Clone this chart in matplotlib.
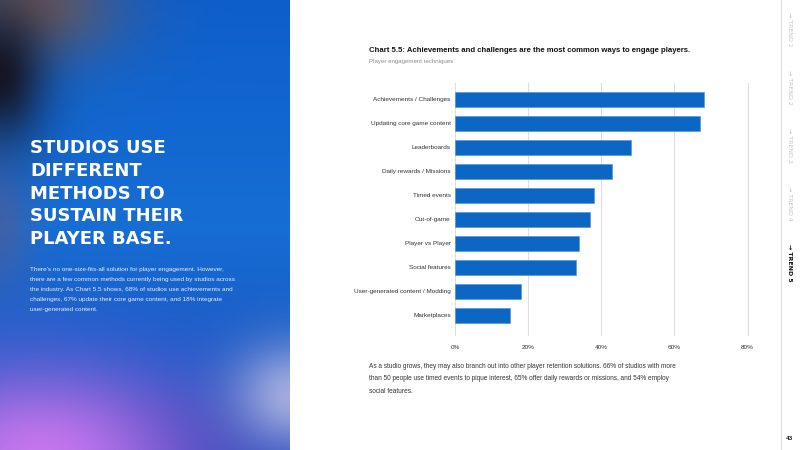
import numpy as np
import matplotlib
matplotlib.use("Agg")
import matplotlib.pyplot as plt

# chart data
techniques = ["Achievements / Challenges", "Updating core game content", "Leaderboards",
              "Daily rewards / Missions", "Timed events", "Out-of-game", "Player vs Player",
              "Social features", "User-generated content / Modding", "Marketplaces"]
shares = [68, 67, 48, 43, 38, 37, 34, 33, 18, 15]
x_ticks = [0, 20, 40, 60, 80]
x_tick_labels = ["0%", "20%", "40%", "60%", "80%"]

headline = ["STUDIOS USE", "DIFFERENT", "METHODS TO", "SUSTAIN THEIR", "PLAYER BASE."]
intro = ["There's no one-size-fits-all solution for player engagement. However,",
         "there are a few common methods currently being used by studios across",
         "the industry. As Chart 5.5 shows, 68% of studios use achievements and",
         "challenges, 67% update their core game content, and 18% integrate",
         "user-generated content."]
outro = ["As a studio grows, they may also branch out into other player retention solutions. 66% of studios with more",
         "than 50 people use timed events to pique interest, 65% offer daily rewards or missions, and 54% employ",
         "social features."]
trends = ["→ TREND 1", "→ TREND 2", "→ TREND 3", "→ TREND 4", "→ TREND 5"]

sans = ["Liberation Sans", "DejaVu Sans"]

fig = plt.figure(figsize=(8, 4.5), dpi=100)
fig.patch.set_facecolor("white")

# left gradient panel (decorative background)
H, W = 450, 290
yy, xx = np.mgrid[0:H, 0:W].astype(float)
t = yy / H
img = np.zeros((H, W, 3))
top = np.array([14, 94, 202.]); mid = np.array([22, 110, 212.]); bot = np.array([22, 72, 185.])
for c in range(3):
    img[..., c] = np.where(t < 0.5, top[c] + (mid[c] - top[c]) * t * 2,
                           mid[c] + (bot[c] - mid[c]) * (t - 0.5) * 2)
blobs = [
    (35, 5, 60, 40, (125, 85, 65), 0.75),
    (0, 75, 32, 50, (22, 18, 28), 0.95),
    (0, 225, 22, 45, (110, 85, 120), 0.45),
    (170, 435, 70, 30, (25, 45, 160), 0.5),
    (40, 455, 115, 65, (205, 120, 240), 0.95),
    (295, 395, 45, 38, (185, 188, 228), 0.85),
]
for bx, by, sx, sy, col, s in blobs:
    w = s * np.exp(-((xx - bx) ** 2 / (2 * sx ** 2) + (yy - by) ** 2 / (2 * sy ** 2)))
    for c in range(3):
        img[..., c] = img[..., c] * (1 - w) + col[c] * w
bg = fig.add_axes([0, 0, 290 / 800, 1])
bg.imshow(np.clip(img, 0, 255).astype(np.uint8), aspect="auto", extent=(0, W, H, 0))
bg.axis("off")

def fx(px):
    return px / 800

def fy(py):
    return 1 - py / 450

for i, line in enumerate(headline):
    fig.text(fx(30), fy(148 + i * 22.8), line, color="white", fontsize=13,
             fontweight="bold", family="DejaVu Sans", va="center", ha="left")
for i, line in enumerate(intro):
    fig.text(fx(30), fy(269 + i * 10), line, color="#e6ecf8", fontsize=4.6,
             family=sans, va="center", ha="left")

# chart
ax = fig.add_axes([fx(455), fy(335), (747.5 - 455) / 800, (335 - 83) / 450])
ypos = np.arange(len(techniques))
ax.barh(ypos, shares, height=0.63, color="#0b66c4", edgecolor="#4d8fd8", linewidth=0.4, zorder=3)
ax.set_xlim(0, 80)
ax.set_ylim(9.83, -0.67)
ax.set_xticks(x_ticks)
ax.set_xticklabels(x_tick_labels, fontsize=4.6, color="#333333", family=sans)
ax.set_yticks(ypos)
ax.set_yticklabels(techniques, fontsize=4.6, color="#333333", family=sans)
ax.tick_params(length=0, pad=3)
ax.tick_params(axis="x", pad=7)
for xv in x_ticks:
    ax.axvline(xv, color="#dedede", linewidth=0.8, zorder=0, clip_on=False)
for sp in ax.spines.values():
    sp.set_visible(False)

fig.text(fx(369), fy(51), "Chart 5.5: Achievements and challenges are the most common ways to engage players.",
         fontsize=5.6, fontweight="bold", color="#111111", family=sans, va="center")
fig.text(fx(369), fy(62), "Player engagement techniques", fontsize=4.4, color="#8a8a8a",
         family=sans, va="center")
for i, line in enumerate(outro):
    fig.text(fx(369), fy(366 + i * 12.6), line, fontsize=4.7, color="#333333",
             family=sans, va="center")

# right navigation strip
fig.add_artist(plt.Line2D([fx(781), fx(781)], [0, 1], color="#dddddd", linewidth=0.8))
for i, lab in enumerate(trends):
    last = i == len(trends) - 1
    fig.text(fx(790), fy(12 + i * 58), lab, rotation=-90, fontsize=4.5,
             color="#111111" if last else "#c4c4c4", fontweight="bold" if last else "normal",
             family="DejaVu Sans", ha="center", va="top")
fig.text(fx(790), fy(438), "43", fontsize=4.6, color="#222222", fontweight="bold",
         family=sans, ha="center", va="center")

fig.savefig("out.png", dpi=100)
